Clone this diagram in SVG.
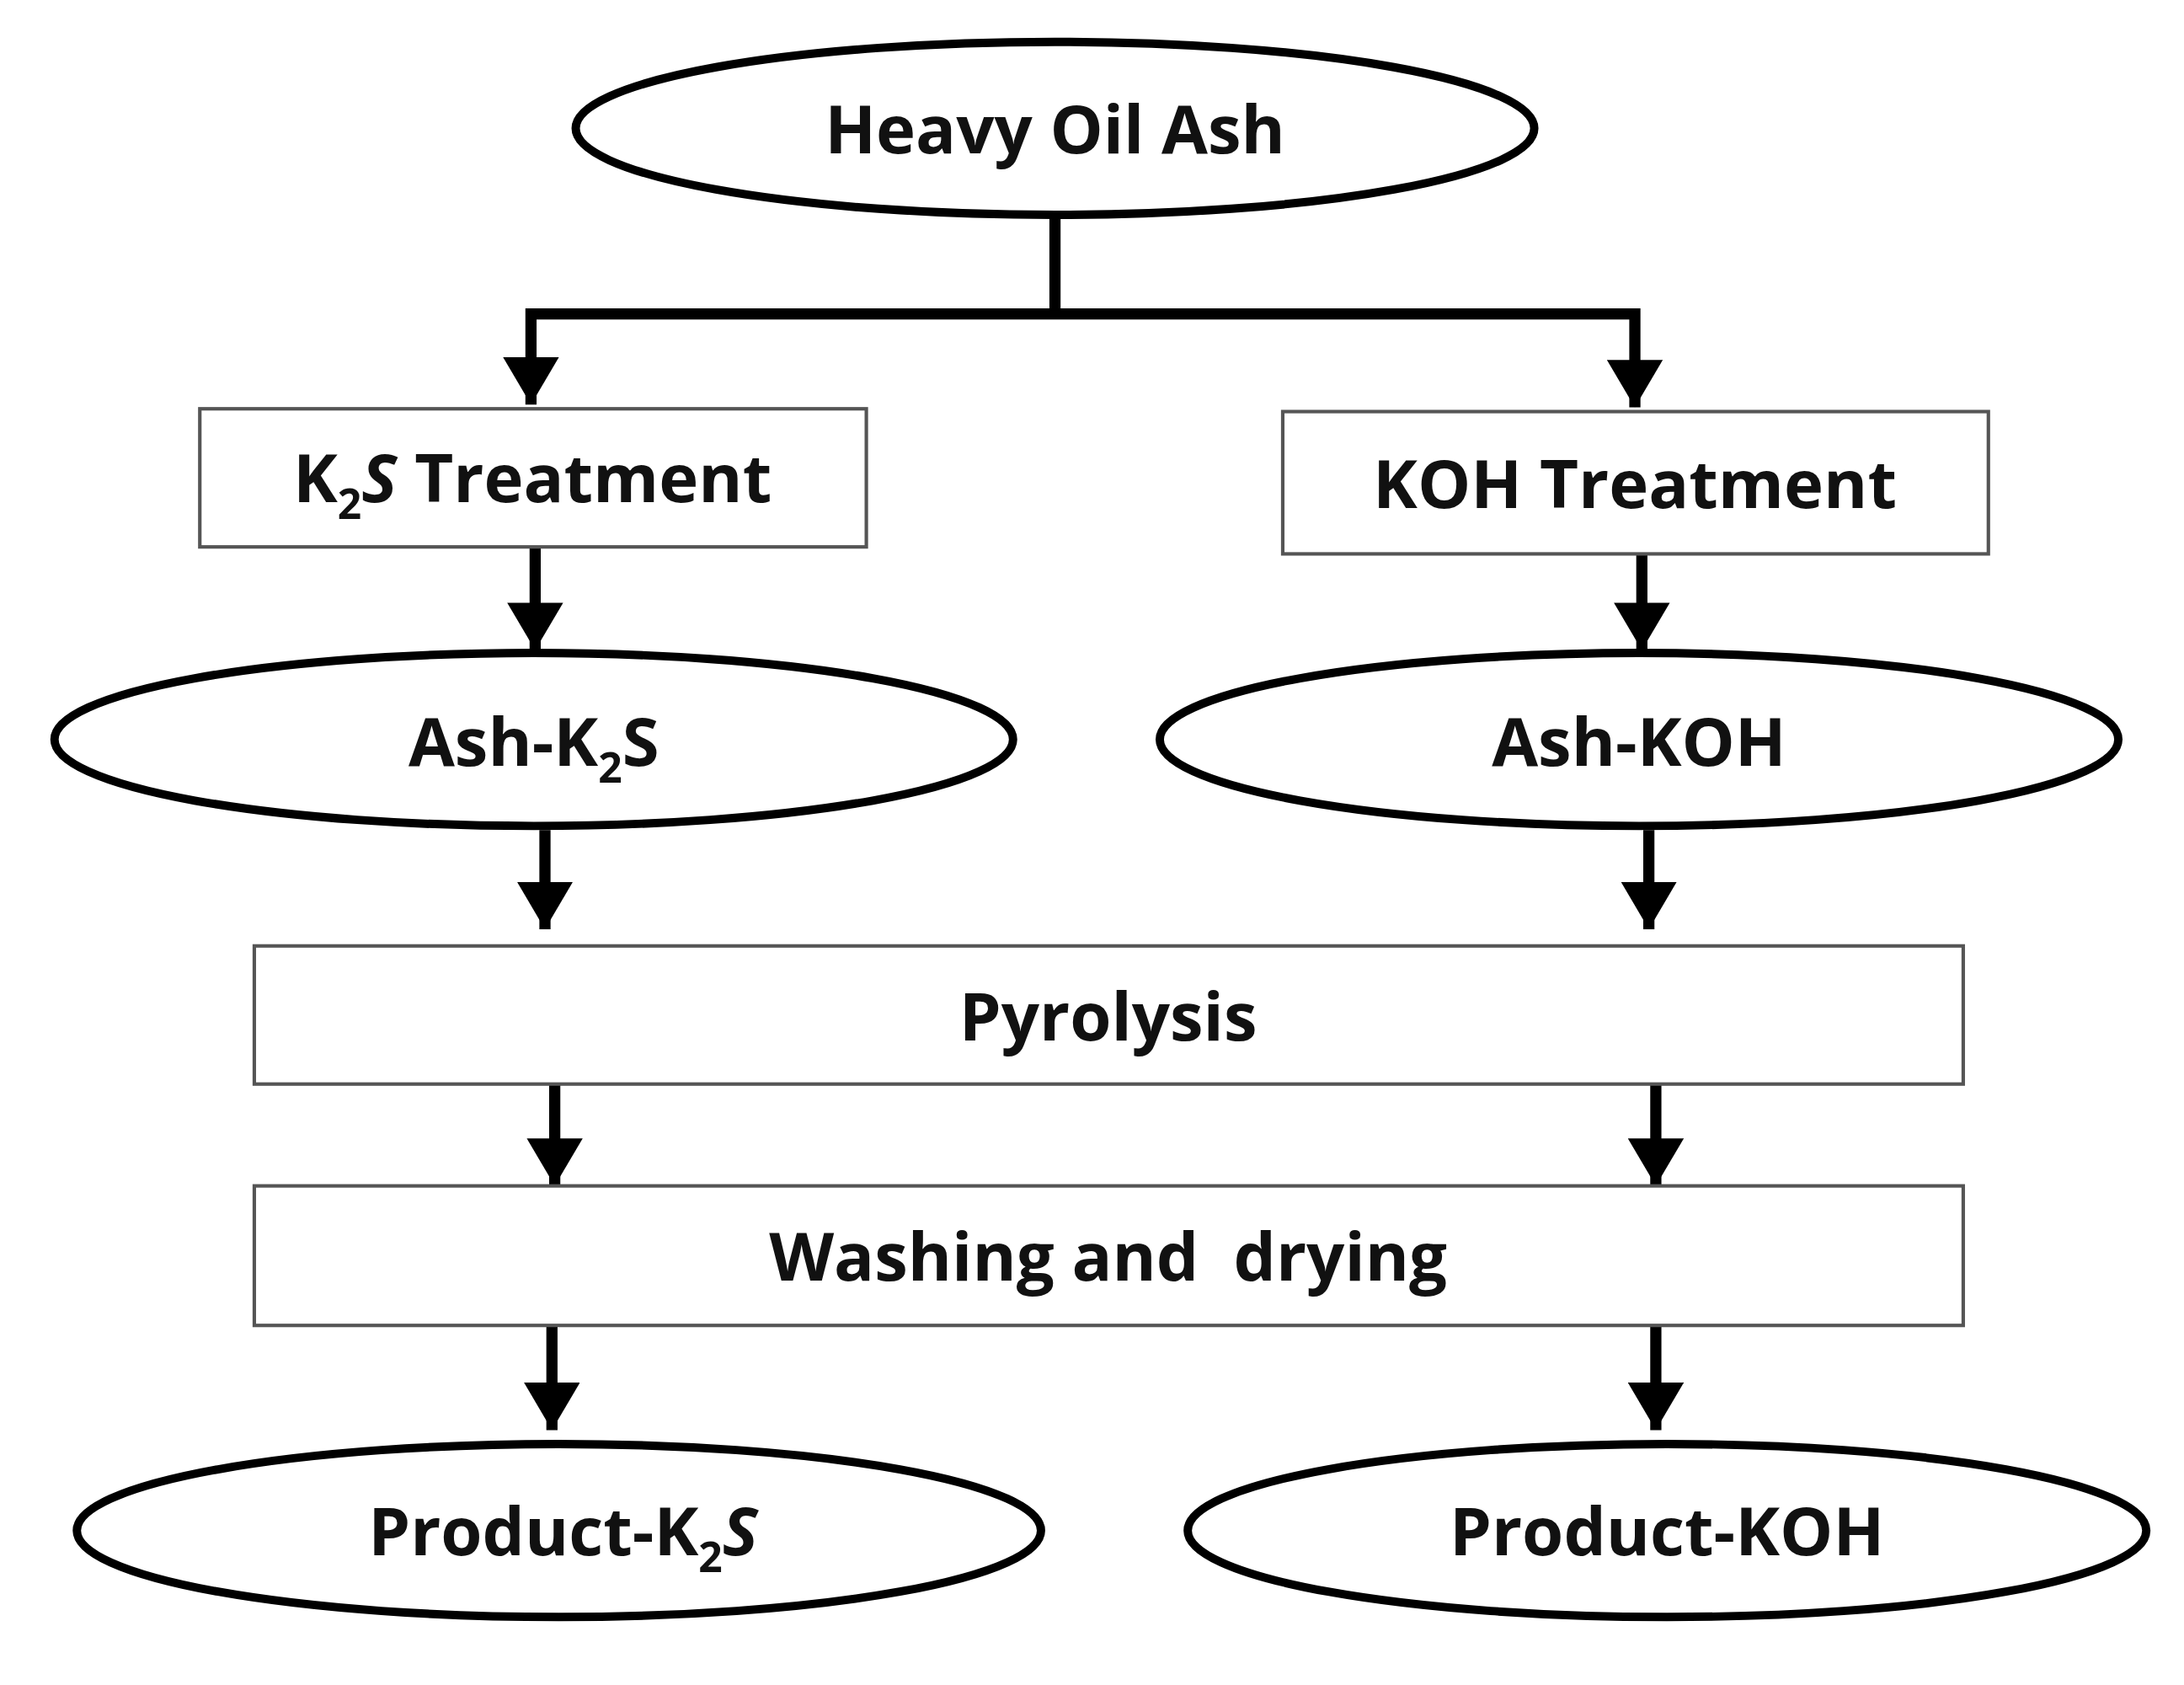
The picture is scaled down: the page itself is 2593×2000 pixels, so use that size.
<svg xmlns="http://www.w3.org/2000/svg" width="2593" height="2000" viewBox="0 0 2593 2000">
<style>
.e{fill:#fff;stroke:#000;stroke-width:6}
.b{fill:#fff;stroke:#555;stroke-width:2.5}
.c{fill:none;stroke:#000;stroke-width:8}
text{font-family:"Open Sans","DejaVu Sans",sans-serif;font-weight:bold;font-size:48px;text-anchor:middle;fill:#111}
.s{font-size:30px}
</style>
<defs>
<marker id="ah" markerUnits="userSpaceOnUse" viewBox="0 0 34 40" refX="34" refY="20" markerWidth="34" markerHeight="40" orient="auto">
<path d="M0,0 L34,20 L0,40 Z" fill="#000"/>
</marker>
</defs>
<rect width="2593" height="2000" fill="#fff"/>
<g transform="scale(1.659,1.656)">
<g id="connectors">
<path class="c" d="M755,155 V225 M380,225 H1172"/>
<path class="c" d="M380,221 V290" marker-end="url(#ah)"/>
<path class="c" d="M1170,221 V292" marker-end="url(#ah)"/>
<path class="c" d="M383,392 V466" marker-end="url(#ah)"/>
<path class="c" d="M1175,397 V466" marker-end="url(#ah)"/>
<path class="c" d="M390,595 V666" marker-end="url(#ah)"/>
<path class="c" d="M1180,595 V666" marker-end="url(#ah)"/>
<path class="c" d="M397,777 V850" marker-end="url(#ah)"/>
<path class="c" d="M1185,777 V850" marker-end="url(#ah)"/>
<path class="c" d="M395,950 V1025" marker-end="url(#ah)"/>
<path class="c" d="M1185,950 V1025" marker-end="url(#ah)"/>
</g>
<g id="heavy"><ellipse class="e" cx="755" cy="92" rx="343" ry="62"/><text x="755" y="110">Heavy Oil Ash</text></g>
<g id="k2sT"><rect class="b" x="143" y="293" width="477" height="99"/><text x="381" y="360">K<tspan class="s" dy="12">2</tspan><tspan dy="-12" font-style="italic">S</tspan> Treatment</text></g>
<g id="kohT"><rect class="b" x="918" y="295" width="505" height="102"/><text x="1170" y="364">KOH Treatment</text></g>
<g id="ashK2S"><ellipse class="e" cx="382" cy="530" rx="343" ry="62"/><text x="382" y="549">Ash-K<tspan class="s" dy="12">2</tspan><tspan dy="-12">S</tspan></text></g>
<g id="ashKOH"><ellipse class="e" cx="1173" cy="530" rx="343" ry="62"/><text x="1173" y="549">Ash-KOH</text></g>
<g id="pyro"><rect class="b" x="182" y="678" width="1223" height="99"/><text x="793" y="746">Pyrolysis</text></g>
<g id="wash"><rect class="b" x="182" y="850" width="1223" height="100"/><text x="793" y="918" xml:space="preserve">Washing and  drying</text></g>
<g id="prodK2S"><ellipse class="e" cx="400" cy="1097" rx="345" ry="62"/><text x="403" y="1115">Product-K<tspan class="s" dy="12">2</tspan><tspan dy="-12" font-style="italic">S</tspan></text></g>
<g id="prodKOH"><ellipse class="e" cx="1193" cy="1097" rx="343" ry="62"/><text x="1193" y="1115">Product-KOH</text></g>
</g>
</svg>
